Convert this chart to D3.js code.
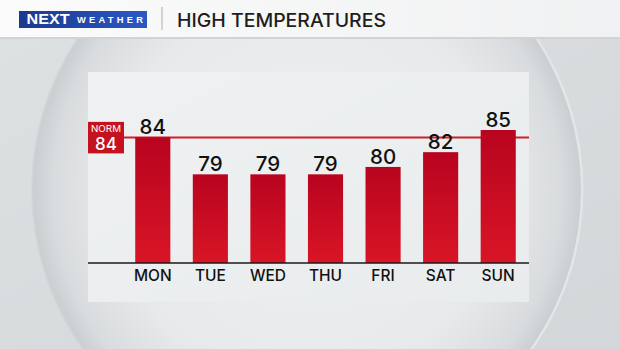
<!DOCTYPE html>
<html>
<head>
<meta charset="utf-8">
<script src="https://cdn.jsdelivr.net/npm/d3@7"></script>
<style>
  html, body { margin: 0; padding: 0; background: #d8dcdd; }
  svg { display: block; }
</style>
</head>
<body>
<div class="container"></div>
<script>
// chart data
const days = ["MON", "TUE", "WED", "THU", "FRI", "SAT", "SUN"];
const highs = [84, 79, 79, 79, 80, 82, 85];
const normalHigh = 84;
const titleText = "HIGH TEMPERATURES";

const W = 620, H = 349;
const font = "Inter, 'Open Sans', sans-serif";

const svg = d3.select(".container")
    .append("svg")
    .attr("width", W)
    .attr("height", H);

const defs = svg.append("defs");

// background + glass sphere
const bg = defs.append("linearGradient").attr("id", "bg").attr("x1", 0).attr("x2", 1).attr("y1", 0).attr("y2", 1);
bg.append("stop").attr("offset", "0%").attr("stop-color", "#dde1e2");
bg.append("stop").attr("offset", "100%").attr("stop-color", "#d3d7d9");

const sphere = defs.append("radialGradient").attr("id", "sphere")
    .attr("cx", "50%").attr("cy", "50%").attr("r", "50%");
sphere.append("stop").attr("offset", "0%").attr("stop-color", "#eef0f1");
sphere.append("stop").attr("offset", "70%").attr("stop-color", "#e7e9ea");
sphere.append("stop").attr("offset", "92%").attr("stop-color", "#d9dcde");
sphere.append("stop").attr("offset", "99%").attr("stop-color", "#cbcfd1");
sphere.append("stop").attr("offset", "100%").attr("stop-color", "#d6d9db");

const panelGrad = defs.append("linearGradient").attr("id", "panel").attr("x1", 0).attr("x2", 1).attr("y1", 0).attr("y2", 1);
panelGrad.append("stop").attr("offset", "0%").attr("stop-color", "#eff1f2");
panelGrad.append("stop").attr("offset", "100%").attr("stop-color", "#e9eced");

const barGrad = defs.append("linearGradient").attr("id", "bar").attr("x1", 0).attr("x2", 0).attr("y1", 0).attr("y2", 1);
barGrad.append("stop").attr("offset", "0%").attr("stop-color", "#b8041f");
barGrad.append("stop").attr("offset", "100%").attr("stop-color", "#d91526");

const headGrad = defs.append("linearGradient").attr("id", "head").attr("x1", 0).attr("x2", 1);
headGrad.append("stop").attr("offset", "0%").attr("stop-color", "#fbfbfb");
headGrad.append("stop").attr("offset", "100%").attr("stop-color", "#f0f1f2");

const logoGrad = defs.append("linearGradient").attr("id", "logo").attr("x1", 0).attr("x2", 1);
logoGrad.append("stop").attr("offset", "0%").attr("stop-color", "#1a3a8f");
logoGrad.append("stop").attr("offset", "100%").attr("stop-color", "#2a58c4");

svg.append("rect").attr("width", W).attr("height", H).attr("fill", "url(#bg)");
svg.append("circle").attr("cx", 307).attr("cy", 190).attr("r", 276).attr("fill", "url(#sphere)");
// light rim on the right side of the sphere
svg.append("path")
    .attr("d", d3.arc()({innerRadius: 274, outerRadius: 276.5, startAngle: 0.25, endAngle: 2.6}))
    .attr("transform", "translate(307,190)")
    .attr("fill", "#e6eaec")
    .attr("opacity", 0.8);

// header bar
svg.append("rect").attr("x", 0).attr("y", 0).attr("width", W).attr("height", 38).attr("fill", "url(#head)");
svg.append("rect").attr("x", 0).attr("y", 37).attr("width", W).attr("height", 2).attr("fill", "#d0d4d6");

// logo
svg.append("rect").attr("x", 19).attr("y", 11).attr("width", 128).attr("height", 17).attr("fill", "url(#logo)");
svg.append("text").attr("x", 26.5).attr("y", 24.2)
    .attr("font-family", "'Liberation Sans', Arial, sans-serif").attr("font-weight", 700)
    .attr("font-size", 14).attr("fill", "#fff")
    .attr("textLength", 43).attr("lengthAdjust", "spacingAndGlyphs").text("NEXT");
svg.append("text").attr("x", 77).attr("y", 23.4)
    .attr("font-family", "'Liberation Sans', Arial, sans-serif").attr("font-weight", 700)
    .attr("font-size", 9.3).attr("fill", "#fff")
    .attr("textLength", 66).attr("lengthAdjust", "spacing").text("WEATHER");
svg.append("line").attr("x1", 162).attr("x2", 162).attr("y1", 7).attr("y2", 30)
    .attr("stroke", "#a8acae").attr("stroke-width", 1);
svg.append("text").attr("x", 177).attr("y", 26.7)
    .attr("font-family", font).attr("font-size", 19).attr("font-weight", 500).attr("fill", "#1e1e1e")
    .attr("textLength", 209).attr("lengthAdjust", "spacingAndGlyphs")
    .text(titleText);

// chart panel
const panel = {left: 88, right: 529, top: 72, bottom: 302};
svg.append("rect")
    .attr("x", panel.left).attr("y", panel.top)
    .attr("width", panel.right - panel.left).attr("height", panel.bottom - panel.top)
    .attr("fill", "url(#panel)");

// scales
const x = d3.scaleBand()
    .domain(days)
    .range([124, 527])
    .paddingInner(0.39)
    .paddingOuter(0.195);

const y = d3.scaleLinear()
    .domain([67, 85])
    .range([263, 130]);

// normal line
svg.append("line")
    .attr("x1", 120).attr("x2", panel.right)
    .attr("y1", y(normalHigh)).attr("y2", y(normalHigh))
    .attr("stroke", "#cf1f2b").attr("stroke-width", 2);

// bars
svg.selectAll("rect.bar")
    .data(highs)
    .enter()
    .append("rect")
    .attr("class", "bar")
    .attr("x", (d, i) => x(days[i]))
    .attr("y", d => y(d))
    .attr("width", x.bandwidth())
    .attr("height", d => y.range()[0] - y(d))
    .attr("fill", "url(#bar)");

// value labels
svg.selectAll("text.val")
    .data(highs)
    .enter()
    .append("text")
    .attr("class", "val")
    .attr("x", (d, i) => x(days[i]) + x.bandwidth() / 2)
    .attr("y", d => y(d) - 3)
    .attr("text-anchor", "middle")
    .attr("font-family", font)
    .attr("font-weight", 500)
    .attr("font-size", 20.5)
    .attr("fill", "#111")
    .text(d => d);

// baseline + day axis
const xAxis = d3.axisBottom(x).tickSize(0).tickPadding(0);
const axisG = svg.append("g")
    .attr("transform", `translate(0, ${y.range()[0]})`)
    .call(xAxis);
axisG.select(".domain").remove();
axisG.selectAll("text")
    .attr("dy", 0)
    .attr("y", 18)
    .attr("font-family", font)
    .attr("font-weight", 500)
    .attr("font-size", 15.5)
    .attr("fill", "#111");
svg.append("line")
    .attr("x1", panel.left).attr("x2", panel.right)
    .attr("y1", y.range()[0]).attr("y2", y.range()[0])
    .attr("stroke", "#1a1a1a").attr("stroke-width", 1.5);

// NORM tag
const tagY = y(normalHigh);
svg.append("rect")
    .attr("x", panel.left).attr("y", tagY - 15.5)
    .attr("width", 36).attr("height", 31.5)
    .attr("fill", "#c4121f");
svg.append("text")
    .attr("x", panel.left + 18).attr("y", tagY - 5.5)
    .attr("text-anchor", "middle")
    .attr("font-family", font).attr("font-size", 9)
    .attr("fill", "#fff")
    .attr("textLength", 30).attr("lengthAdjust", "spacingAndGlyphs")
    .text("NORM");
svg.append("text")
    .attr("x", panel.left + 18).attr("y", tagY + 12.5)
    .attr("text-anchor", "middle")
    .attr("font-family", font).attr("font-size", 17)
    .attr("font-weight", 500)
    .attr("fill", "#fff")
    .text(normalHigh);
</script>
</body>
</html>
